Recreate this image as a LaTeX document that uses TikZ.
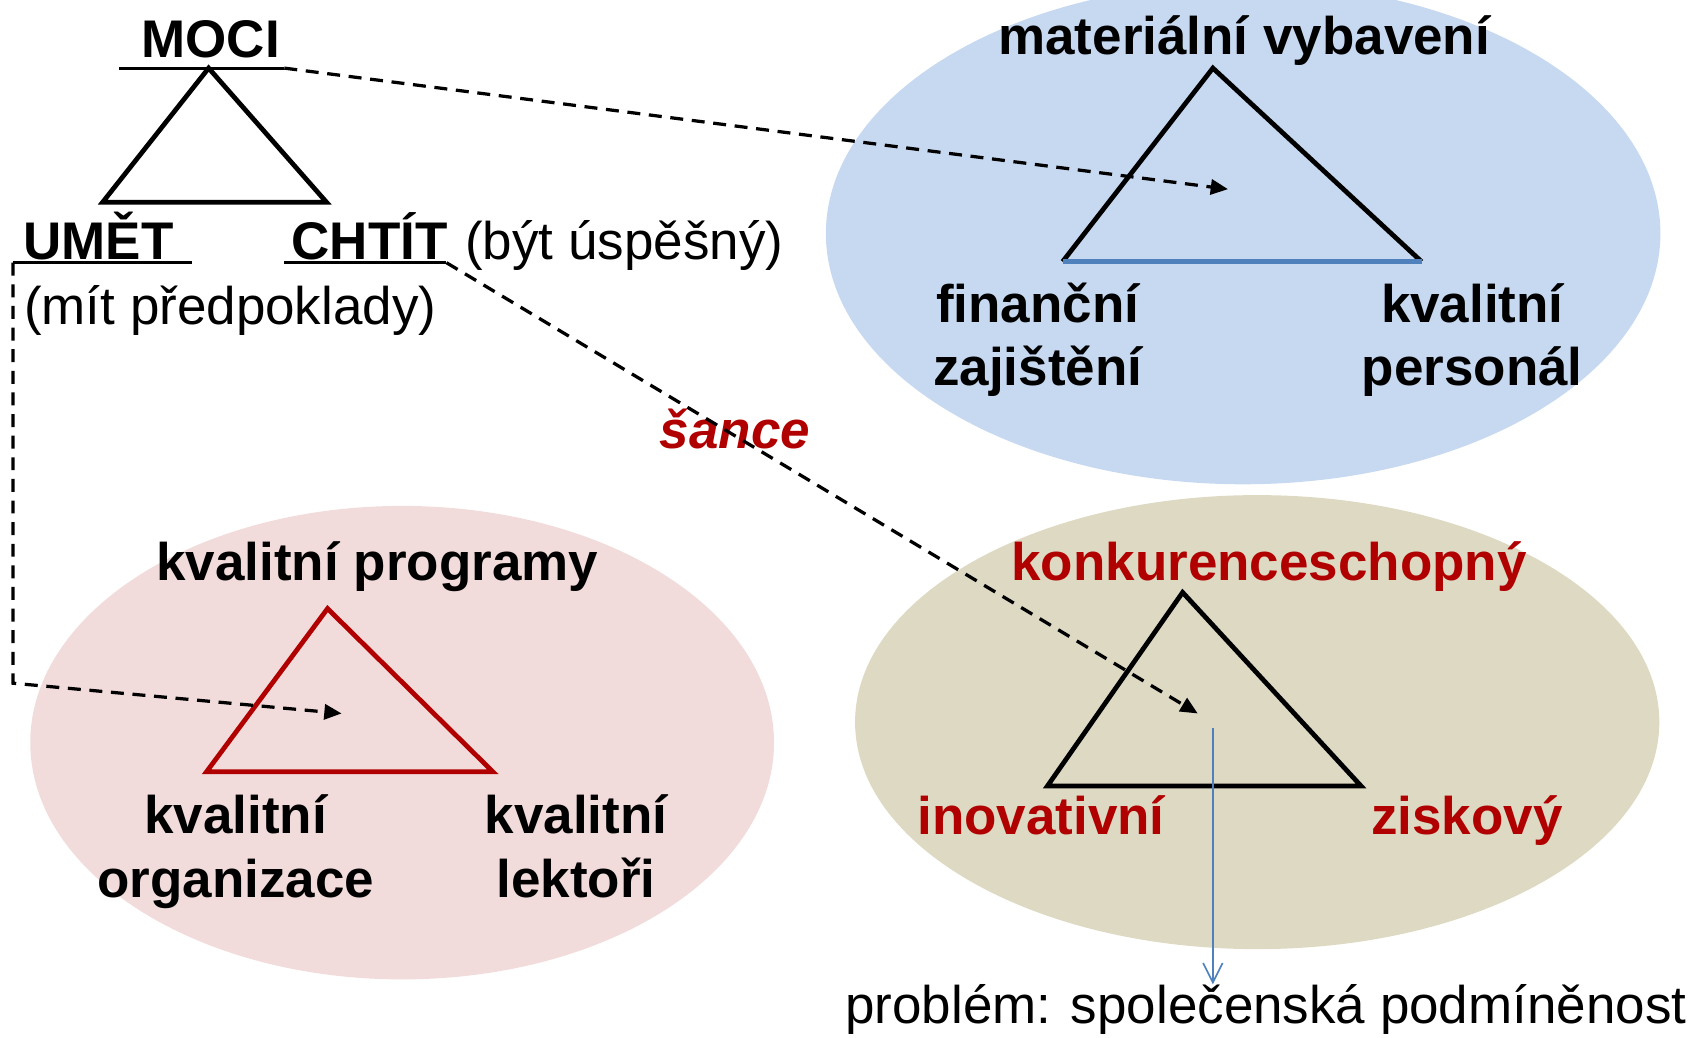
\documentclass[tikz,border=0pt]{standalone}
\usepackage{fontspec}
\setmainfont{Liberation Sans}
\usetikzlibrary{arrows.meta}
\definecolor{ovalblue}{HTML}{C6D9F1}
\definecolor{ovalpink}{HTML}{F2DCDB}
\definecolor{ovalsand}{HTML}{DDD9C3}
\definecolor{deepred}{HTML}{B00000}
\definecolor{lineblue}{HTML}{4F81BD}
\begin{document}
\begin{tikzpicture}
            [x=0.5pt, y=-0.5pt,
            every node/.style={inner sep=0pt, anchor=base, align=center, font=\fontsize{24.5}{29.5}\selectfont},
            word/.style={font=\fontsize{24.5}{29.5}\selectfont\bfseries},
            hot/.style={word, text=deepred},
            tri/.style={line width=2.2pt},
            uline/.style={line width=1.3pt},
            link/.style={line width=1.5pt, dash pattern=on 6pt off 4pt, -{Triangle[length=8pt,width=7pt]}}]
            \useasboundingbox (0,0) rectangle (1568,960);
            \clip (0,0) rectangle (1568,960);
            \fill[ovalblue] (1150,216) ellipse [x radius=386, y radius=232];
            \fill[ovalpink] (372,687) ellipse [x radius=344, y radius=219];
            \fill[ovalsand] (1163,668) ellipse [x radius=372, y radius=210];

            \node[word] (moci) at (195,53) {MOCI};
            \coordinate (mociL) at (110,63);
            \coordinate (mociR) at (263,63);
            \draw[uline] (mociL) -- (mociR);
            \draw[tri] (193,63) -- (95,187) -- (302,187) -- cycle;
            \node[word] (umet) at (91,240) {UMĚT};
            \coordinate (umetL) at (12,243);
            \coordinate (umetR) at (178,243);
            \draw[uline] (umetL) -- (umetR);
            \node[word] (chtit) at (342,240) {CHTÍT};
            \coordinate (chtitL) at (263,243);
            \coordinate (chtitR) at (413,243);
            \draw[uline] (chtitL) -- (chtitR);
            \node[anchor=base west] (uspech) at (430,240) {(být úspěšný)};
            \node[anchor=base west] (predpoklad) at (22,300) {(mít předpoklady)};

            \node[word] (vybaveni) at (1151,50) {materiální vybavení};
            \draw[tri] (983,242) -- (1122,63) -- (1315,242);
            \draw[tri, lineblue] (983,242) -- (1315,242);
            \node[word] (finance) at (960,357) {finanční\\zajištění};
            \node[word] (personal) at (1362,357) {kvalitní\\personál};

            \node[hot, font=\fontsize{24.5}{29.5}\selectfont\bfseries\itshape] (sance) at (680,415) {šance};

            \node[word] (programy) at (349,537) {kvalitní programy};
            \draw[tri, deepred] (303,563) -- (191,714) -- (456,714) -- cycle;
            \node[word] (organizace) at (218,830) {kvalitní\\organizace};
            \node[word] (lektori) at (533,830) {kvalitní\\lektoři};

            \node[hot] (konkurence) at (1174,537) {konkurenceschopný};
            \draw[tri] (1094,548) -- (969,727) -- (1259,727) -- cycle;
            \node[hot] (inovace) at (963,772) {inovativní};
            \node[hot] (zisk) at (1357,772) {ziskový};
            \node (problem) at (1171,947) {problém: společenská podmíněnost};

            \coordinate (vybaveniT) at (1136,175);
            \coordinate (konkurenceT) at (1108,660);
            \coordinate (programyT) at (316,660);
            \coordinate (turn) at (12,632);
            \coordinate (drop) at (1122,673);
            \draw[link] (mociR) -- (vybaveniT);
            \draw[link] (chtitR) -- (konkurenceT);
            \draw[link] (umetL) -- (turn) -- (programyT);
            \draw[lineblue, line width=0.75pt, -{Straight Barb[length=9pt,width=9pt]}] (drop) -- (drop |- problem.north);
        \end{tikzpicture}
\end{document}
